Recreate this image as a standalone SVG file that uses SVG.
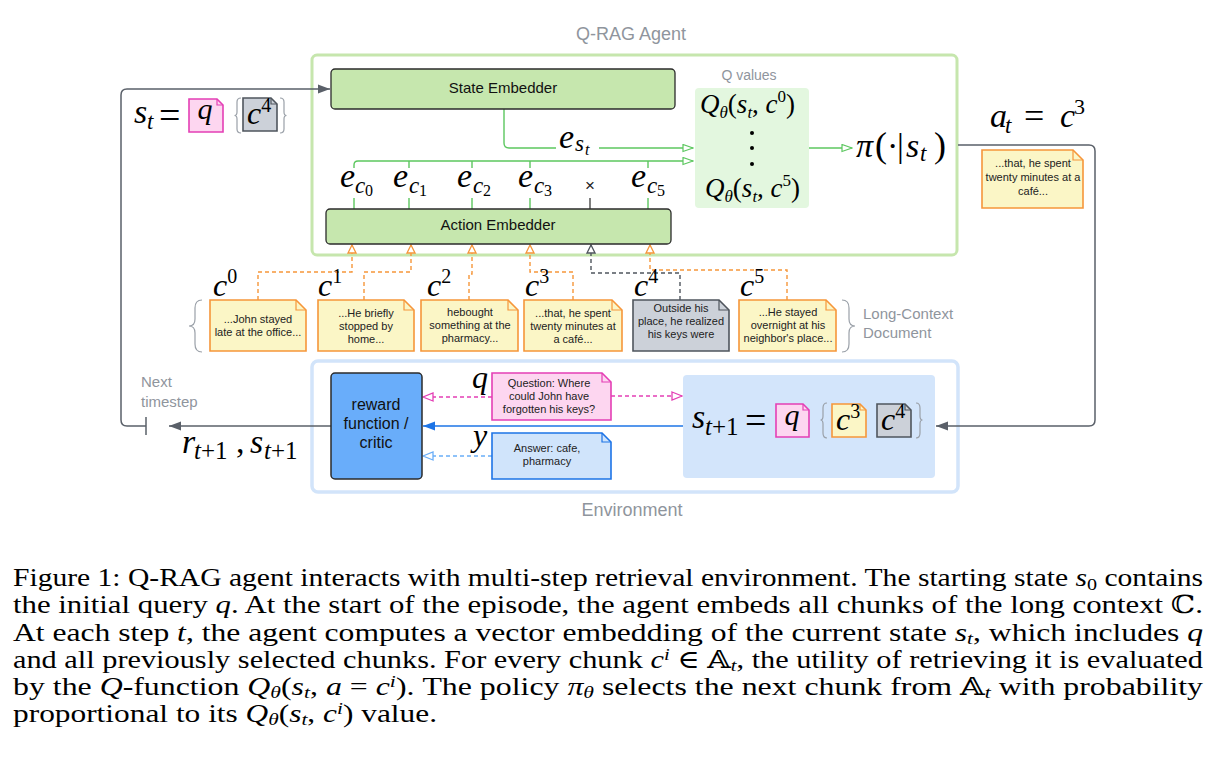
<svg xmlns="http://www.w3.org/2000/svg" width="1219" height="783" viewBox="0 0 1219 783">
<style>
.sans{font-family:"Liberation Sans",Arial,sans-serif}
.m{font-family:"Liberation Serif","Times New Roman",serif;font-style:italic;fill:#000}
.r{font-family:"Liberation Serif","Times New Roman",serif;font-style:normal;fill:#000}
.note{font-family:"Liberation Sans",Arial,sans-serif;font-size:11px;fill:#222;text-anchor:middle}
.gtxt{font-family:"Liberation Sans",Arial,sans-serif;fill:#8f959d}
.emb{fill:#c6e7ae;stroke:#2b2b2b;stroke-width:1.3}
.yel{fill:#fbf6c6;stroke:#f6963a;stroke-width:1.6}
.yelf{fill:none;stroke:#f6963a;stroke-width:1.2}
.gry{fill:#ccd1d9;stroke:#4f555d;stroke-width:1.6}
.gryf{fill:none;stroke:#4f555d;stroke-width:1.2}
.pink{fill:#fdd6f0;stroke:#e43fb5;stroke-width:1.6}
.pinkf{fill:none;stroke:#e43fb5;stroke-width:1.2}
.blu{fill:#d0e4fb;stroke:#1d74e6;stroke-width:1.6}
.bluf{fill:none;stroke:#1d74e6;stroke-width:1.2}
.gl{fill:none;stroke:#5cc75f;stroke-width:1.4}
.dk{fill:none;stroke:#5a6069;stroke-width:1.5}
.od{fill:none;stroke:#f6963a;stroke-width:1.4;stroke-dasharray:4 3}
.gd{fill:none;stroke:#4f555d;stroke-width:1.4;stroke-dasharray:4 3}
.brace{fill:none;stroke:#9aa0a8;stroke-width:1.2}
.cap{font-family:"Liberation Serif","Times New Roman","DejaVu Serif","DejaVu Sans",serif;font-size:25px;fill:#000}
.i{font-style:italic}
</style>
<defs>
<marker id="aK" markerUnits="userSpaceOnUse" markerWidth="13" markerHeight="10" refX="12" refY="5" orient="auto"><path d="M0,0.5 L12,5 L0,9.5 Z" fill="#5a6069"/></marker>
<marker id="aB" markerUnits="userSpaceOnUse" markerWidth="13" markerHeight="10" refX="12" refY="5" orient="auto"><path d="M0,0.5 L12,5 L0,9.5 Z" fill="#1d74e6"/></marker>
<marker id="aG" markerUnits="userSpaceOnUse" markerWidth="12" markerHeight="9" refX="11" refY="4.5" orient="auto"><path d="M1,1 L11,4.5 L1,8 Z" fill="#fff" stroke="#5cc75f" stroke-width="1.2"/></marker>
<marker id="aO" markerUnits="userSpaceOnUse" markerWidth="10" markerHeight="10" refX="9" refY="5" orient="auto"><path d="M1,1 L9,5 L1,9 Z" fill="#fff" stroke="#f6963a" stroke-width="1.3"/></marker>
<marker id="aD" markerUnits="userSpaceOnUse" markerWidth="10" markerHeight="10" refX="9" refY="5" orient="auto"><path d="M1,1 L9,5 L1,9 Z" fill="#fff" stroke="#4f555d" stroke-width="1.3"/></marker>
<marker id="aP" markerUnits="userSpaceOnUse" markerWidth="12" markerHeight="10" refX="11" refY="5" orient="auto"><path d="M1,1 L11,5 L1,9 Z" fill="#fff" stroke="#e43fb5" stroke-width="1.3"/></marker>
<marker id="aL" markerUnits="userSpaceOnUse" markerWidth="12" markerHeight="10" refX="11" refY="5" orient="auto"><path d="M1,1 L11,5 L1,9 Z" fill="#fff" stroke="#6aaef8" stroke-width="1.3"/></marker>
</defs>
<rect width="1219" height="783" fill="#fff"/>

<!-- containers -->
<g id="agent">
<rect x="312" y="55" width="645" height="200" rx="5" fill="none" stroke="#c6e6ad" stroke-width="3"/>
<text class="gtxt" x="631" y="40" font-size="18" text-anchor="middle">Q-RAG Agent</text>
</g>
<g id="environment">
<rect x="312" y="361" width="646" height="131" rx="6" fill="none" stroke="#d2e4fa" stroke-width="3.5"/>
<text class="gtxt" x="632" y="516" font-size="18" text-anchor="middle">Environment</text>
</g>

<!-- connectors -->
<g id="connectors">
<path class="dk" d="M146,426 H127 Q121,426 121,420 V95 Q121,89 127,89 H330" marker-end="url(#aK)"/>
<path class="dk" d="M146,417 V435"/>
<path class="dk" d="M331,426 H169" marker-end="url(#aK)"/>
<path class="dk" d="M958,145 H1089 Q1095,145 1095,151 V420 Q1095,426 1089,426 H936" marker-end="url(#aK)"/>
<path d="M683,426 H423" fill="none" stroke="#1d74e6" stroke-width="1.5" marker-end="url(#aB)"/>
<path d="M492,397 H423" fill="none" stroke="#e43fb5" stroke-width="1.4" stroke-dasharray="4 3" marker-end="url(#aP)"/>
<path d="M611,396 H682" fill="none" stroke="#e43fb5" stroke-width="1.4" stroke-dasharray="4 3" marker-end="url(#aP)"/>
<path d="M492,456 H423" fill="none" stroke="#6aaef8" stroke-width="1.4" stroke-dasharray="4 3" marker-end="url(#aL)"/>
<path class="gl" d="M504,109 V143 Q504,148 509,148 H556"/>
<path class="gl" d="M599,148 H693" marker-end="url(#aG)"/>
<path class="gl" d="M354,168 V165 Q354,161 358,161 H693" marker-end="url(#aG)"/>
<path class="gl" d="M409,161 V168 M472,161 V168 M530,161 V168 M648,161 V168"/>
<path class="gl" d="M354,198 V209 M409,198 V209 M472,198 V209 M530,198 V209 M648,198 V209"/>
<path d="M590,198 V209" stroke="#2b2b2b" stroke-width="1.2"/>
<path class="gl" d="M809,148 H852" marker-end="url(#aG)"/>
<path class="od" d="M258,300 V272 H352 V245" marker-end="url(#aO)"/>
<path class="od" d="M364,300 V272 H411 V245" marker-end="url(#aO)"/>
<path class="od" d="M469,300 V274 H472 V245" marker-end="url(#aO)"/>
<path class="od" d="M573,300 V272 H530 V245" marker-end="url(#aO)"/>
<path class="gd" d="M680,300 V273 H591 V245" marker-end="url(#aD)"/>
<path class="od" d="M787,300 V270 H650 V245" marker-end="url(#aO)"/>
</g>

<!-- agent nodes -->
<g id="state-embedder">
<rect class="emb" x="331" y="69" width="344" height="40" rx="4"/>
<text class="sans" x="503" y="93" font-size="15" text-anchor="middle" fill="#111">State Embedder</text>
</g>
<g id="action-embedder">
<rect class="emb" x="326" y="209" width="345" height="35" rx="4"/>
<text class="sans" x="498" y="230" font-size="15" text-anchor="middle" fill="#111">Action Embedder</text>
</g>
<g id="q-values">
<text class="gtxt" x="749" y="80" font-size="14" text-anchor="middle">Q values</text>
<rect x="695" y="88" width="114" height="120" rx="4" fill="#e3f7df"/>
<text class="m" x="700" y="113" font-size="27">Q<tspan font-size="17" dy="5">θ</tspan><tspan class="r" dy="-5">(</tspan>s<tspan font-size="17" dy="5">t</tspan><tspan class="r" dy="-5">, </tspan>c<tspan class="r" font-size="17" dy="-11">0</tspan><tspan class="r" dy="11">)</tspan></text>
<circle cx="752" cy="133" r="2" fill="#000"/>
<circle cx="752" cy="148" r="2" fill="#000"/>
<circle cx="752" cy="164" r="2" fill="#000"/>
<text class="m" x="705" y="197" font-size="27">Q<tspan font-size="17" dy="5">θ</tspan><tspan class="r" dy="-5">(</tspan>s<tspan font-size="17" dy="5">t</tspan><tspan class="r" dy="-5">, </tspan>c<tspan class="r" font-size="17" dy="-11">5</tspan><tspan class="r" dy="11">)</tspan></text>
</g>
<g id="policy">
<text class="m" font-size="34" y="157"><tspan x="856">π</tspan><tspan class="r" x="875" font-size="36">(</tspan><tspan class="r" x="887">·</tspan><tspan class="r" x="897">|</tspan><tspan x="906">s</tspan><tspan x="920" y="161" font-size="23">t</tspan><tspan class="r" x="934" y="157" font-size="36">)</tspan></text>
</g>
<g id="embedding-labels">
<text class="m" font-size="34" y="148"><tspan x="559">e</tspan><tspan x="575" y="151" font-size="23">s</tspan><tspan x="585" y="155" font-size="16">t</tspan></text>
<text class="m" font-size="34" y="187"><tspan x="340">e</tspan><tspan x="355" y="193" font-size="23">c</tspan><tspan class="r" x="365" y="196" font-size="16">0</tspan></text>
<text class="m" font-size="34" y="187"><tspan x="393">e</tspan><tspan x="409" y="193" font-size="23">c</tspan><tspan class="r" x="419" y="196" font-size="16">1</tspan></text>
<text class="m" font-size="34" y="187"><tspan x="457">e</tspan><tspan x="473" y="193" font-size="23">c</tspan><tspan class="r" x="483" y="196" font-size="16">2</tspan></text>
<text class="m" font-size="34" y="187"><tspan x="518">e</tspan><tspan x="534" y="193" font-size="23">c</tspan><tspan class="r" x="544" y="196" font-size="16">3</tspan></text>
<text class="sans" x="590" y="191" font-size="17" text-anchor="middle" fill="#222">×</text>
<text class="m" font-size="34" y="187"><tspan x="631">e</tspan><tspan x="647" y="193" font-size="23">c</tspan><tspan class="r" x="657" y="196" font-size="16">5</tspan></text>
</g>

<!-- state s_t -->
<g id="state-st">
<text class="m" font-size="34" y="123"><tspan x="134">s</tspan><tspan x="147" y="129" font-size="23">t</tspan></text>
<text class="r" x="159" y="128" font-size="38">=</text>
<path class="pink" d="M189,99 H217 L223,105 V132 H189 Z"/><path class="pinkf" d="M217,99 V105 H223"/>
<text class="m" x="205" y="119" font-size="30" text-anchor="middle">q</text>
<path class="brace" d="M241,98 Q237,98 237,102 V112 Q237,115.5 234.5,115.5 Q237,115.5 237,119 V129 Q237,133 241,133"/>
<path class="gry" d="M243,98 H271 L277,104 V131 H243 Z"/><path class="gryf" d="M271,98 V104 H277"/>
<text class="m" x="247" y="124" font-size="32">c<tspan class="r" font-size="20" dy="-12">4</tspan></text>
<path class="brace" d="M280,98 Q284,98 284,102 V112 Q284,115.5 286.5,115.5 Q284,115.5 284,119 V129 Q284,133 280,133"/>
</g>

<!-- action -->
<g id="action-at">
<text class="m" font-size="34" y="127"><tspan x="990">a</tspan><tspan x="1005" y="133" font-size="23">t</tspan><tspan class="r" x="1024" y="128" font-size="36">=</tspan><tspan x="1060" y="127">c</tspan><tspan class="r" x="1074" y="114" font-size="22">3</tspan></text>
<path class="yel" d="M982,150 H1073 L1083,160 V208 H982 Z"/><path class="yelf" d="M1073,150 V160 H1083"/>
<text class="note" x="1033"><tspan x="1033" y="167">...that, he spent</tspan><tspan x="1033" y="181">twenty minutes at a</tspan><tspan x="1033" y="195">café...</tspan></text>
</g>

<!-- chunks -->
<g id="chunk-c0">
<text class="m" x="213" y="296" font-size="32">c<tspan class="r" font-size="20" dy="-13">0</tspan></text>
<path class="yel" d="M210,300 H296 L306,310 V351 H210 Z"/><path class="yelf" d="M296,300 V310 H306"/>
<text class="note"><tspan x="258" y="323">...John stayed</tspan><tspan x="258" y="336">late at the office...</tspan></text>
</g>
<g id="chunk-c1">
<text class="m" x="318" y="296" font-size="32">c<tspan class="r" font-size="20" dy="-13">1</tspan></text>
<path class="yel" d="M318,300 H404 L414,310 V351 H318 Z"/><path class="yelf" d="M404,300 V310 H414"/>
<text class="note"><tspan x="366" y="317">...He briefly</tspan><tspan x="366" y="330">stopped by</tspan><tspan x="366" y="343">home...</tspan></text>
</g>
<g id="chunk-c2">
<text class="m" x="427" y="296" font-size="32">c<tspan class="r" font-size="20" dy="-13">2</tspan></text>
<path class="yel" d="M421,300 H508 L518,310 V351 H421 Z"/><path class="yelf" d="M508,300 V310 H518"/>
<text class="note"><tspan x="470" y="316">hebought</tspan><tspan x="470" y="329">something at the</tspan><tspan x="470" y="342">pharmacy...</tspan></text>
</g>
<g id="chunk-c3">
<text class="m" x="525" y="296" font-size="32">c<tspan class="r" font-size="20" dy="-13">3</tspan></text>
<path class="yel" d="M524,300 H612 L622,310 V351 H524 Z"/><path class="yelf" d="M612,300 V310 H622"/>
<text class="note"><tspan x="573" y="317">...that, he spent</tspan><tspan x="573" y="330">twenty minutes at</tspan><tspan x="573" y="343">a café...</tspan></text>
</g>
<g id="chunk-c4">
<text class="m" x="634" y="296" font-size="32">c<tspan class="r" font-size="20" dy="-13">4</tspan></text>
<path class="gry" d="M633,300 H719 L729,310 V351 H633 Z"/><path class="gryf" d="M719,300 V310 H729"/>
<text class="note"><tspan x="681" y="312">Outside his</tspan><tspan x="681" y="325">place, he realized</tspan><tspan x="681" y="338">his keys were</tspan></text>
</g>
<g id="chunk-c5">
<text class="m" x="740" y="296" font-size="32">c<tspan class="r" font-size="20" dy="-13">5</tspan></text>
<path class="yel" d="M739,300 H826 L836,310 V351 H739 Z"/><path class="yelf" d="M826,300 V310 H836"/>
<text class="note"><tspan x="788" y="316">...He stayed</tspan><tspan x="788" y="329">overnight at his</tspan><tspan x="788" y="342">neighbor's place...</tspan></text>
</g>
<g id="long-context">
<path class="brace" d="M202,300 Q195,300 195,308 V319 Q195,326 189,326 Q195,326 195,333 V344 Q195,352 202,352"/>
<path class="brace" d="M842,300 Q849,300 849,308 V319 Q849,326 855,326 Q849,326 849,333 V344 Q849,352 842,352"/>
<text class="gtxt" font-size="15"><tspan x="863" y="319">Long-Context</tspan><tspan x="863" y="338">Document</tspan></text>
</g>

<!-- environment nodes -->
<g id="next-timestep">
<text class="gtxt" font-size="15"><tspan x="141" y="387">Next</tspan><tspan x="141" y="407">timestep</tspan></text>
<text class="m" font-size="34" y="453"><tspan x="182">r</tspan><tspan x="194" y="459" font-size="25">t</tspan><tspan class="r" font-size="25">+1</tspan><tspan class="r" x="236" y="453">,</tspan><tspan x="250">s</tspan><tspan x="264" y="459" font-size="25">t</tspan><tspan class="r" font-size="25">+1</tspan></text>
</g>
<g id="reward">
<rect x="331" y="373" width="91" height="106" rx="4" fill="#69adfa" stroke="#2b2b2b" stroke-width="1.5"/>
<text class="sans" font-size="16" fill="#111" text-anchor="middle"><tspan x="376" y="410">reward</tspan><tspan x="376" y="429">function /</tspan><tspan x="376" y="448">critic</tspan></text>
</g>
<g id="question">
<text class="m" x="472" y="388" font-size="32">q</text>
<path class="pink" d="M492,373 H602 L611,382 V420 H492 Z"/><path class="pinkf" d="M602,373 V382 H611"/>
<text class="note"><tspan x="549" y="387">Question: Where</tspan><tspan x="549" y="400">could John have</tspan><tspan x="549" y="413">forgotten his keys?</tspan></text>
</g>
<g id="answer">
<text class="m" x="473" y="446" font-size="32">y</text>
<path class="blu" d="M492,433 H602 L611,442 V479 H492 Z"/><path class="bluf" d="M602,433 V442 H611"/>
<text class="note"><tspan x="547" y="452">Answer: cafe,</tspan><tspan x="547" y="465">pharmacy</tspan></text>
</g>
<g id="next-state">
<rect x="683" y="375" width="252" height="103" rx="4" fill="#d3e5fb"/>
<text class="m" font-size="34" y="428"><tspan x="692">s</tspan><tspan x="705" y="435" font-size="25">t</tspan><tspan class="r" font-size="25">+1</tspan></text>
<text class="r" x="745" y="433" font-size="38">=</text>
<path class="pink" d="M776,404 H803 L809,410 V437 H776 Z"/><path class="pinkf" d="M803,404 V410 H809"/>
<text class="m" x="792" y="425" font-size="30" text-anchor="middle">q</text>
<path class="brace" d="M827,403 Q823,403 823,408 V416 Q823,420 820.5,420 Q823,420 823,424 V433 Q823,438 827,438"/>
<path class="yel" d="M832,404 H860 L866,410 V437 H832 Z"/><path class="yelf" d="M860,404 V410 H866"/>
<text class="m" x="836" y="430" font-size="32">c<tspan class="r" font-size="20" dy="-12">3</tspan></text>
<path class="gry" d="M877,404 H905 L911,410 V437 H877 Z"/><path class="gryf" d="M905,404 V410 H911"/>
<text class="m" x="881" y="430" font-size="32">c<tspan class="r" font-size="20" dy="-12">4</tspan></text>
<path class="brace" d="M916,403 Q920,403 920,408 V416 Q920,420 922.5,420 Q920,420 920,424 V433 Q920,438 916,438"/>
</g>

<!-- caption -->
<g id="caption">
<text class="cap" x="13" y="586" textLength="1190" lengthAdjust="spacingAndGlyphs">Figure 1: Q-RAG agent interacts with multi-step retrieval environment. The starting state <tspan class="i">s</tspan><tspan font-size="17" dy="4">0</tspan><tspan dy="-4"> contains</tspan></text>
<text class="cap" x="13" y="613" textLength="1190" lengthAdjust="spacingAndGlyphs">the initial query <tspan class="i">q</tspan>. At the start of the episode, the agent embeds all chunks of the long context ℂ.</text>
<text class="cap" x="13" y="641" textLength="1190" lengthAdjust="spacingAndGlyphs">At each step <tspan class="i">t</tspan>, the agent computes a vector embedding of the current state <tspan class="i">s</tspan><tspan class="i" font-size="17" dy="3">t</tspan><tspan dy="-3">, which includes </tspan><tspan class="i">q</tspan></text>
<text class="cap" x="13" y="668" textLength="1190" lengthAdjust="spacingAndGlyphs">and all previously selected chunks. For every chunk <tspan class="i">c</tspan><tspan class="i" font-size="17" dy="-8">i</tspan><tspan dy="8"> ∈ 𝔸</tspan><tspan class="i" font-size="17" dy="3">t</tspan><tspan dy="-3">, the utility of retrieving it is evaluated</tspan></text>
<text class="cap" x="13" y="695" textLength="1190" lengthAdjust="spacingAndGlyphs">by the <tspan class="i">Q</tspan>-function <tspan class="i">Q</tspan><tspan class="i" font-size="17" dy="3">θ</tspan><tspan dy="-3">(</tspan><tspan class="i">s</tspan><tspan class="i" font-size="17" dy="3">t</tspan><tspan dy="-3">, </tspan><tspan class="i">a</tspan> = <tspan class="i">c</tspan><tspan class="i" font-size="17" dy="-8">i</tspan><tspan dy="8">). The policy </tspan><tspan class="i">π</tspan><tspan class="i" font-size="17" dy="3">θ</tspan><tspan dy="-3"> selects the next chunk from 𝔸</tspan><tspan class="i" font-size="17" dy="3">t</tspan><tspan dy="-3"> with probability</tspan></text>
<text class="cap" x="13" y="722" textLength="424" lengthAdjust="spacingAndGlyphs">proportional to its <tspan class="i">Q</tspan><tspan class="i" font-size="17" dy="3">θ</tspan><tspan dy="-3">(</tspan><tspan class="i">s</tspan><tspan class="i" font-size="17" dy="3">t</tspan><tspan dy="-3">, </tspan><tspan class="i">c</tspan><tspan class="i" font-size="17" dy="-8">i</tspan><tspan dy="8">) value.</tspan></text>
</g>
</svg>
